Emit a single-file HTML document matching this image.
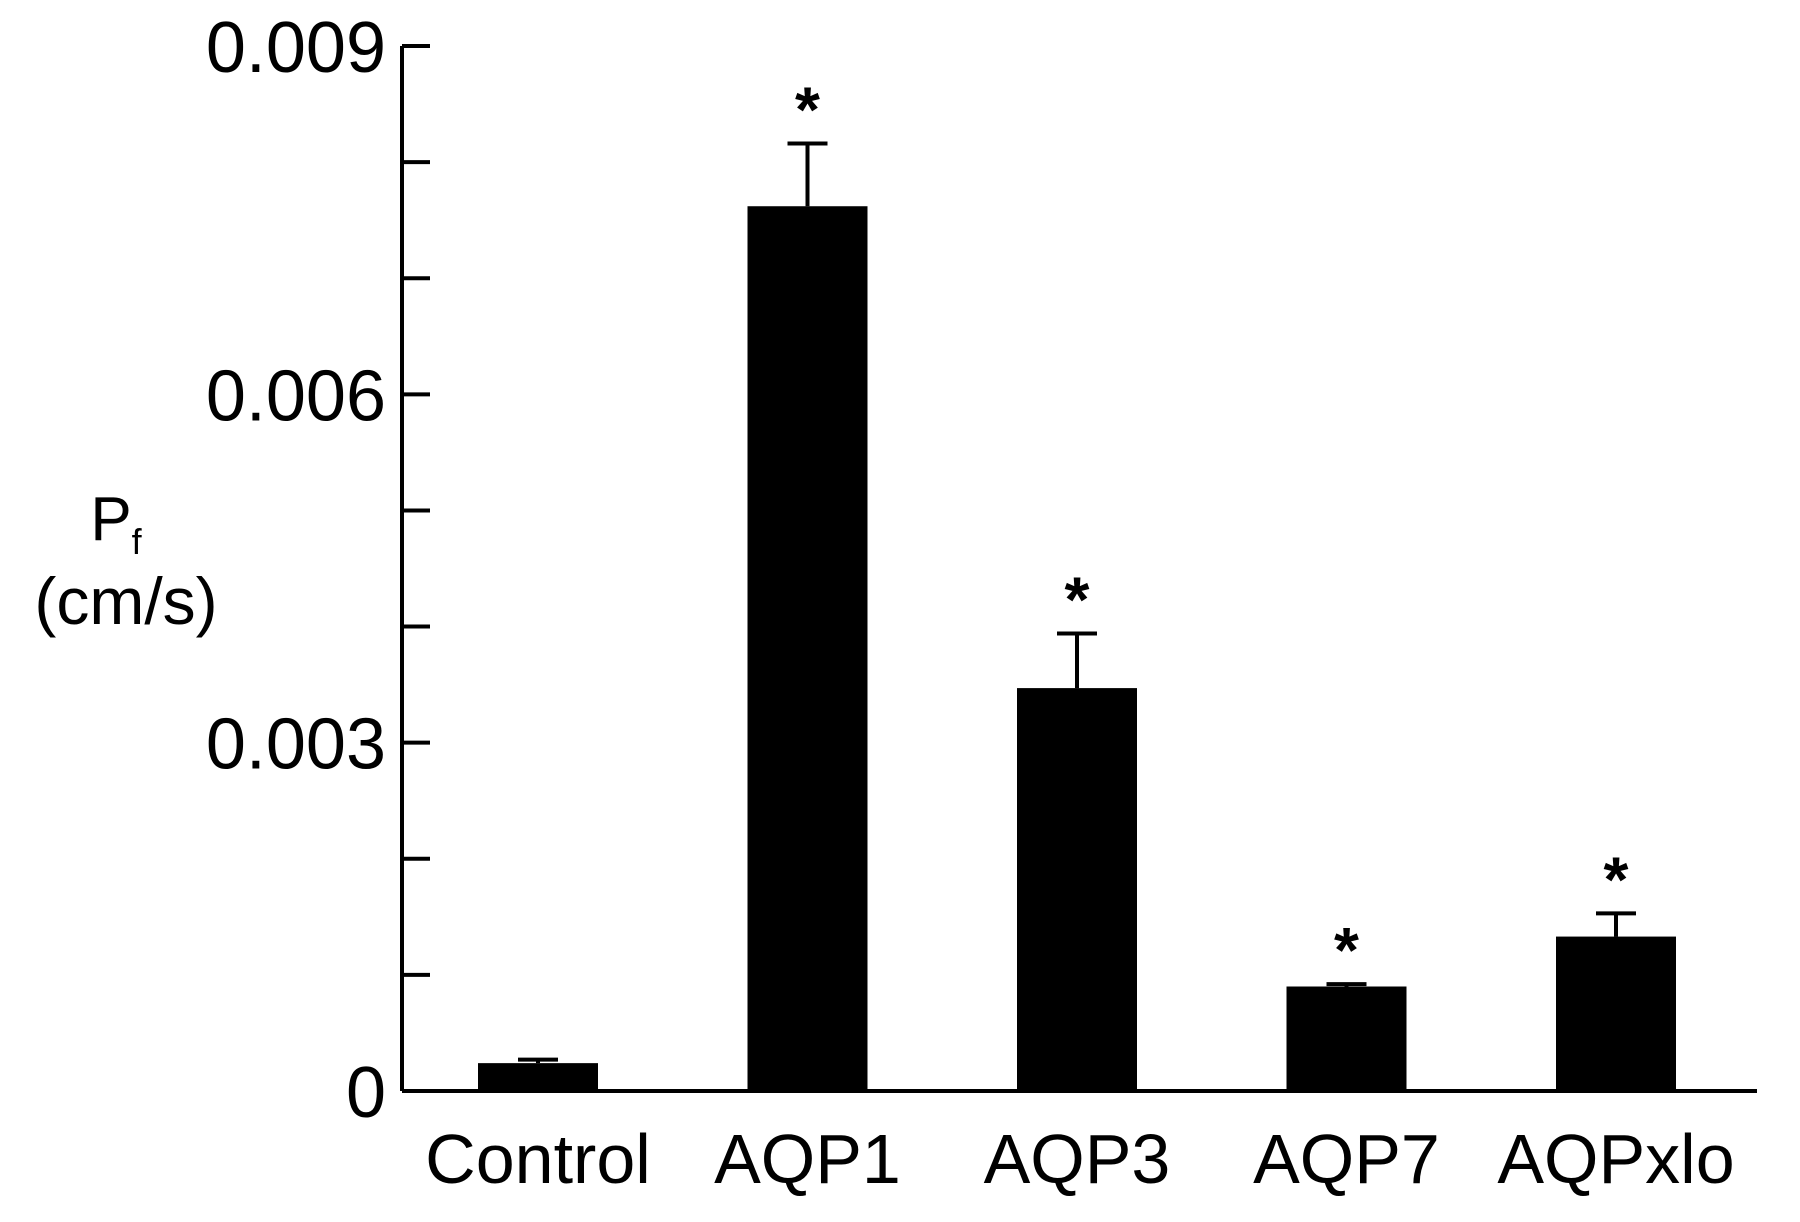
<!DOCTYPE html>
<html><head><meta charset="utf-8"><style>
body{margin:0;background:#fff;}
svg text{font-family:"Liberation Sans",Arial,sans-serif;fill:#000;}
</style></head><body>
<svg id="chart" width="1800" height="1217" viewBox="0 0 1800 1217" xmlns="http://www.w3.org/2000/svg">
<g id="axes"></g>
<g id="bars"></g>
<text x="116" y="540" font-size="62" text-anchor="middle">P<tspan font-size="36" dy="14">f</tspan></text>
<text x="126" y="624" font-size="66" text-anchor="middle">(cm/s)</text>
</svg>
<script>
const categories = ["Control","AQP1","AQP3","AQP7","AQPxlo"];
const values = [0.00024,0.00762,0.00347,0.0009,0.00133];
const errors = [0.00003,0.00054,0.00047,0.00002,0.0002];
const stars = [false,true,true,true,true];
const yTicks = [0,0.001,0.002,0.003,0.004,0.005,0.006,0.007,0.008,0.009];
const yTickLabels = ["0","","","0.003","","","0.006","","","0.009"];

const NS="http://www.w3.org/2000/svg";
const x0=402,x1=1757,y0=1091,yTop=46,yMax=0.009;
function y(v){return y0-(v/yMax)*(y0-yTop);}
function xc(i){return 538+i*269.5;}
function mk(tag,attrs,parent){const e=document.createElementNS(NS,tag);for(const k in attrs)e.setAttribute(k,attrs[k]);parent.appendChild(e);return e;}
const ax=document.getElementById('axes'), bg=document.getElementById('bars');
let l=mk('line',{x1:x0,y1:yTop,x2:x0,y2:y0,stroke:'#000','stroke-width':4},ax);


l=mk('line',{x1:x0,y1:y0,x2:x1,y2:y0,stroke:'#000','stroke-width':4},ax);


yTicks.forEach((t,i)=>{
  const tk=mk('line',{x1:x0,y1:y(t),x2:x0+28,y2:y(t),stroke:'#000','stroke-width':4},ax);
  
  
  if(yTickLabels[i]){
    const tx=mk('text',{x:x0-16,y:y(t)+26,'font-size':72,'text-anchor':'end'},ax);
    tx.textContent=yTickLabels[i];
    
    
  }
});
const bw=120;
categories.forEach((c,i)=>{
  const cx=xc(i), top=y(values[i]);
  const r=mk('rect',{x:cx-bw/2,y:top,width:bw,height:y0-top,fill:'#000'},bg);
  
  
  const et=y(values[i]+errors[i]);
  const e=mk('path',{d:`M${cx},${top} V${et} M${cx-20},${et} H${cx+20}`,stroke:'#000','stroke-width':4,fill:'none'},bg);
  
  
  if(stars[i]){
    const s=mk('text',{x:cx,y:et-12,'font-size':64,'text-anchor':'middle','font-weight':'bold'},bg);
    s.textContent='*';
    
    
  }
  const t=mk('text',{x:cx,y:1183,'font-size':70,'text-anchor':'middle'},bg);
  t.textContent=c;
  
  
});
</script>
</body></html>
